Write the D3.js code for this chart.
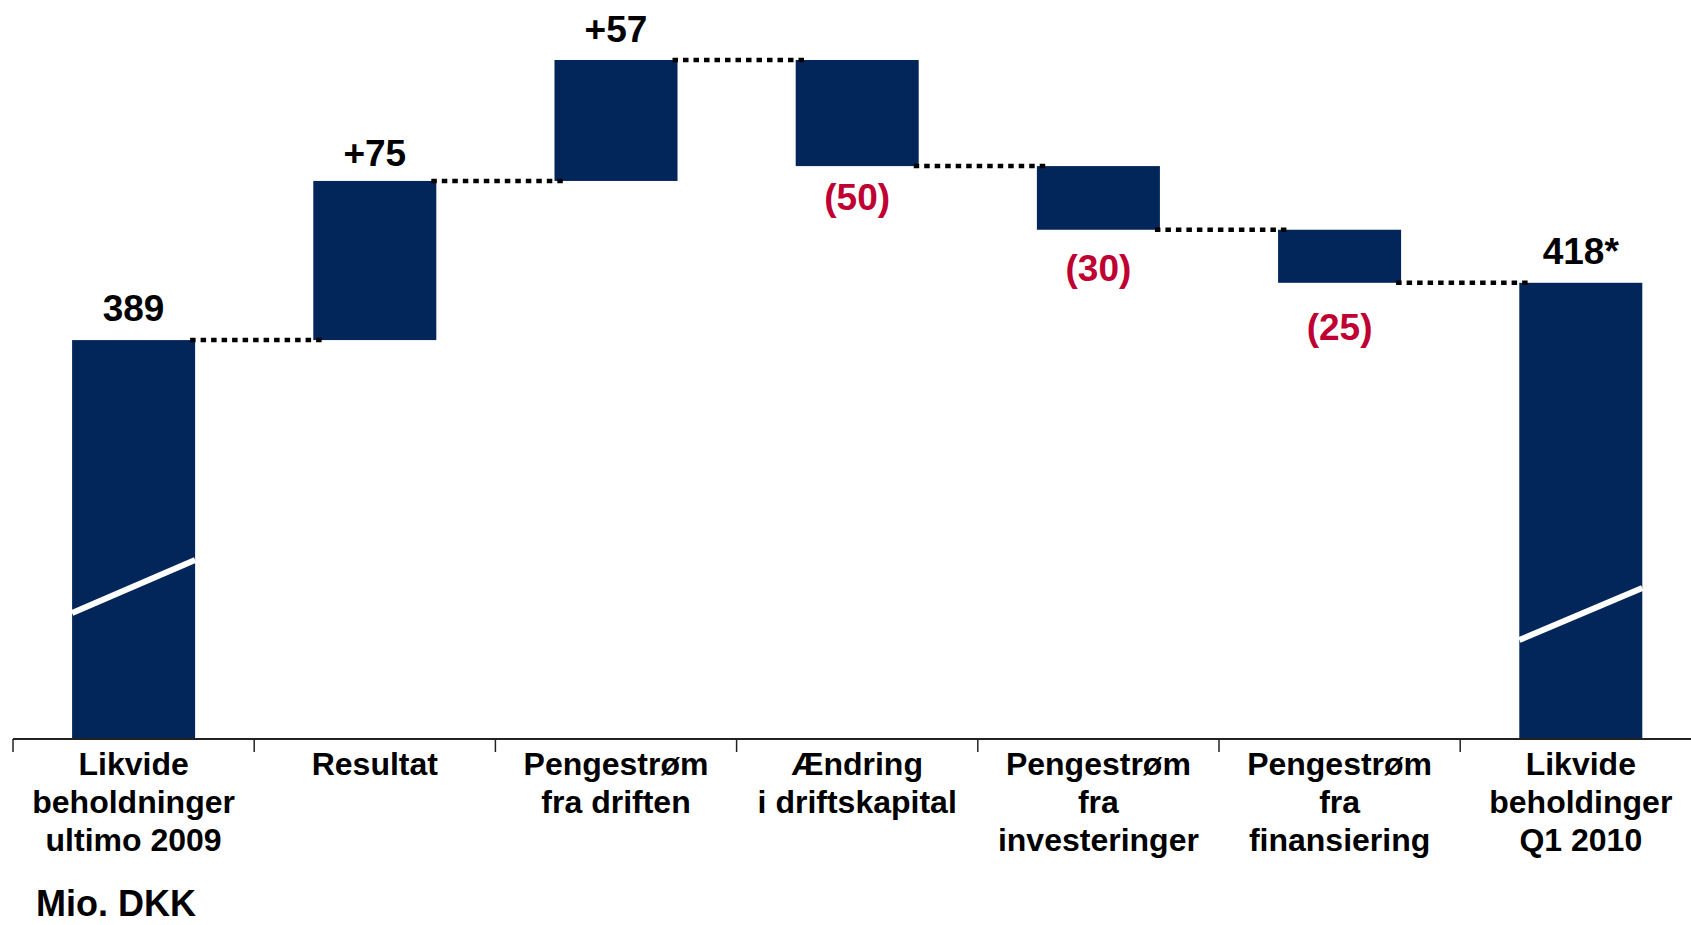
<!DOCTYPE html>
<html>
<head>
<meta charset="utf-8">
<script src="https://cdn.jsdelivr.net/npm/d3@7"></script>
<style>
  html, body { margin: 0; padding: 0; background: #ffffff; }
  svg { display: block; font-family: "Liberation Sans", Arial, sans-serif; font-weight: bold; }
</style>
</head>
<body>
<svg></svg>
<script>
const categories = [
  ['Likvide', 'beholdninger', 'ultimo 2009'],
  ['Resultat'],
  ['Pengestrøm', 'fra driften'],
  ['Ændring', 'i driftskapital'],
  ['Pengestrøm', 'fra', 'investeringer'],
  ['Pengestrøm', 'fra', 'finansiering'],
  ['Likvide', 'beholdinger', 'Q1 2010']
]
const startValue = 389
const changes = [75, 57, -50, -30, -25]
const valueLabels = ['389', '+75', '+57', '(50)', '(30)', '(25)', '418*']
const unitLabel = 'Mio. DKK'

const drawWaterfall = () => {
  const width = 1691
  const height = 925
  const axisY = 739
  const axisLeft = 13
  const step = 241.2
  const barColor = '#03265a'
  const negColor = '#be0032'
  const labelGap = [19, 15, 18, 44, 51, 57, 19]
  // white "broken axis" slashes: [left rise, right rise] above the axis
  const slashes = { 0: [126, 179], 6: [99, 151] }

  const svg = d3.select('svg')
                .attr('width', width)
                .attr('height', height)

  // build waterfall steps
  let running = startValue
  const bars = [{ i: 0, y0: null, y1: startValue, total: true }]
  changes.forEach((c, k) => {
    bars.push({ i: k + 1, y0: running, y1: running + c, total: false })
    running += c
  })
  bars.push({ i: 6, y0: null, y1: running, total: true })

  const keys = categories.map((d, i) => i)
  const xScale = d3.scaleBand()
                   .domain(keys)
                   .range([axisLeft, axisLeft + step * keys.length])
                   .paddingInner(0.49)
                   .paddingOuter(0.245)

  const yScale = d3.scaleLinear()
                   .domain([201, 521])
                   .range([axisY, 60])

  const barTop = d => d.total ? yScale(d.y1) : yScale(Math.max(d.y0, d.y1))
  const barBottom = d => d.total ? axisY : yScale(Math.min(d.y0, d.y1))
  const isNeg = d => !d.total && d.y1 < d.y0

  svg.append('g')
     .selectAll('rect.bar')
     .data(bars)
     .join('rect')
     .classed('bar', true)
     .attr('x', d => xScale(d.i))
     .attr('y', barTop)
     .attr('width', xScale.bandwidth())
     .attr('height', d => barBottom(d) - barTop(d))
     .attr('fill', barColor)

  // break slashes on the total bars
  svg.append('g')
     .selectAll('line.slash')
     .data(bars.filter(d => slashes[d.i]))
     .join('line')
     .attr('x1', d => xScale(d.i))
     .attr('x2', d => xScale(d.i) + xScale.bandwidth())
     .attr('y1', d => axisY - slashes[d.i][0])
     .attr('y2', d => axisY - slashes[d.i][1])
     .attr('stroke', '#ffffff')
     .attr('stroke-width', 6)

  // dotted connectors
  const links = bars.slice(0, -1).map((d, k) => ({ from: d, to: bars[k + 1], level: d.y1 }))
  svg.append('g')
     .selectAll('line.link')
     .data(links)
     .join('line')
     .attr('x1', d => xScale(d.from.i) + xScale.bandwidth() - 5)
     .attr('x2', d => xScale(d.to.i) + 9)
     .attr('y1', d => yScale(d.level))
     .attr('y2', d => yScale(d.level))
     .attr('stroke', '#000000')
     .attr('stroke-width', 4.5)
     .attr('stroke-dasharray', '5.5,5')

  // value labels
  svg.append('g')
     .selectAll('text.value')
     .data(bars)
     .join('text')
     .text(d => valueLabels[d.i])
     .attr('x', d => xScale(d.i) + xScale.bandwidth() / 2)
     .attr('y', d => isNeg(d) ? barBottom(d) + labelGap[d.i] : barTop(d) - labelGap[d.i])
     .attr('text-anchor', 'middle')
     .attr('fill', d => isNeg(d) ? negColor : '#000000')
     .style('font-size', '37px')

  // x axis
  svg.append('line')
     .attr('x1', axisLeft)
     .attr('x2', width)
     .attr('y1', axisY)
     .attr('y2', axisY)
     .attr('stroke', '#222222')
     .attr('stroke-width', 2)

  const tickX = d => xScale(d) - xScale.step() * xScale.paddingInner() / 2
  svg.append('g')
     .selectAll('line.tick')
     .data(keys)
     .join('line')
     .attr('x1', tickX)
     .attr('x2', tickX)
     .attr('y1', axisY)
     .attr('y2', axisY + 13)
     .attr('stroke', '#222222')
     .attr('stroke-width', 1.5)

  const catText = svg.append('g')
                     .selectAll('text.cat')
                     .data(keys)
                     .join('text')
                     .attr('text-anchor', 'middle')
                     .style('font-size', '32px')
                     .attr('fill', '#000000')

  catText.selectAll('tspan')
         .data(d => categories[d].map(line => ({ line, i: d })))
         .join('tspan')
         .attr('x', d => xScale(d.i) + xScale.bandwidth() / 2)
         .attr('y', (d, k) => axisY + 36 + k * 38)
         .text(d => d.line)

  svg.append('text')
     .text(unitLabel)
     .attr('x', 36)
     .attr('y', 916)
     .style('font-size', '36px')
}

drawWaterfall()
</script>
</body>
</html>
